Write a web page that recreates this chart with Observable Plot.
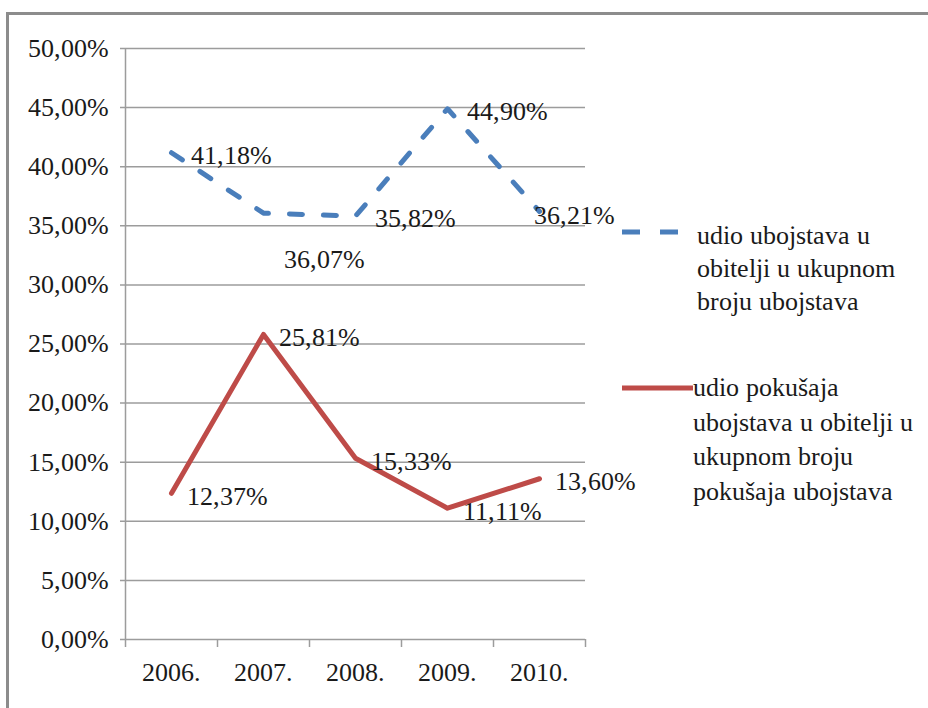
<!DOCTYPE html>
<html><head><meta charset="utf-8">
<style>
@font-face{font-family:'ChartSerif';src:local('Liberation Serif'),local('LiberationSerif'),local('LiberationSerif-Regular'),local('Times New Roman');font-display:swap;}
</style>
<script src="https://cdn.jsdelivr.net/npm/d3@7"></script>
<script src="https://cdn.jsdelivr.net/npm/@observablehq/plot@0.6"></script>
</head><body style="margin:0;background:#fff;font-family:'ChartSerif','Liberation Serif',serif;">
<div id="wrap" style="position:relative;width:928px;height:708px;overflow:hidden;font-family:'ChartSerif','Liberation Serif',serif;color:#1a1a1a;background:#fff;"></div>
<script>
// ---- data ----
const years = ["2006.", "2007.", "2008.", "2009.", "2010."];
const homicideShare = [41.18, 36.07, 35.82, 44.90, 36.21];
const attemptShare = [12.37, 25.81, 15.33, 11.11, 13.60];
const yTicks = [0, 5, 10, 15, 20, 25, 30, 35, 40, 45, 50];
const legendHomicide = ["udio ubojstava u", "obitelji u ukupnom", "broju ubojstava"];
const legendAttempt = ["udio pokušaja", "ubojstava u obitelji u", "ukupnom broju", "pokušaja ubojstava"];

const blue = "#4a7ebb", red = "#be4b48", grid = "#9c9c9c", ink = "#1a1a1a";
const FONT = "'ChartSerif','Liberation Serif',serif";
const fmt = v => v.toFixed(2).replace(".", ",") + "%";

const rowsH = years.map((year, i) => ({year, value: homicideShare[i], i}));
const rowsA = years.map((year, i) => ({year, value: attemptShare[i], i}));

function render() {
  const wrap = document.getElementById("wrap");
  wrap.innerHTML = "";
  const frame = document.createElement("div");
  frame.setAttribute("style", "position:absolute;left:6px;top:12px;width:960px;height:760px;border-top:3px solid #8c8c8c;border-left:3px solid #8c8c8c;");
  wrap.appendChild(frame);

  const txt = {fontFamily: FONT, fontSize: 26, fill: ink};
  const chart = Plot.plot({
    width: 928, height: 708,
    marginLeft: 125, marginRight: 343, marginTop: 48, marginBottom: 69,
    style: {fontFamily: FONT, fontSize: "26px", color: ink, background: "transparent"},
    x: {type: "point", domain: years, padding: 0.5, label: null},
    y: {domain: [0, 50], label: null},
    marks: [
      Plot.gridY(yTicks, {stroke: grid, strokeOpacity: 1, strokeWidth: 1.5, insetLeft: -5}),
      Plot.ruleX([years[0]], {dx: -46, y1: 50, y2: 0, insetBottom: -8, stroke: grid, strokeWidth: 1.5}),
      Plot.ruleX(years, {dx: 46, y1: 0, y2: 0, insetBottom: -8, stroke: grid, strokeWidth: 1.5}),
      Plot.axisY({ticks: yTicks, tickSize: 0, tickPadding: 17, tickFormat: fmt, ...txt, label: null}),
      Plot.axisX({tickSize: 0, tickPadding: 23, ...txt, label: null}),
      Plot.line(rowsH, {x: "year", y: "value", stroke: blue, strokeWidth: 5, strokeDasharray: "13,21", strokeLinecap: "round"}),
      Plot.line(rowsA, {x: "year", y: "value", stroke: red, strokeWidth: 5}),
      Plot.text(rowsH.filter(d => d.i !== 1 && d.i !== 4), {x: "year", y: "value", text: d => fmt(d.value), textAnchor: "start", dx: 19, dy: 3, ...txt}),
      Plot.text(rowsH.filter(d => d.i === 1), {x: "year", y: "value", text: d => fmt(d.value), textAnchor: "start", dx: 20, dy: 47, ...txt}),
      Plot.text(rowsH.filter(d => d.i === 4), {x: "year", y: "value", text: d => fmt(d.value), textAnchor: "start", dx: -6, dy: 4, ...txt}),
      Plot.text(rowsA, {x: "year", y: "value", text: d => fmt(d.value), textAnchor: "start", dx: 15, dy: 3, ...txt})
    ]
  });
  chart.setAttribute("style", chart.getAttribute("style") + ";position:absolute;left:0;top:0;");
  wrap.appendChild(chart);

  // ---- legend ----
  const ns = "http://www.w3.org/2000/svg";
  const sym = document.createElementNS(ns, "svg");
  sym.setAttribute("style", "position:absolute;left:0;top:0;");
  sym.setAttribute("width", 928); sym.setAttribute("height", 708);
  function symLine(x1, x2, y, color, dash) {
    const l = document.createElementNS(ns, "line");
    l.setAttribute("x1", x1); l.setAttribute("x2", x2);
    l.setAttribute("y1", y); l.setAttribute("y2", y);
    l.setAttribute("stroke", color); l.setAttribute("stroke-width", 5);
    if (dash) l.setAttribute("stroke-dasharray", dash);
    sym.appendChild(l);
  }
  symLine(622, 678, 232, blue, "18,20");
  symLine(622, 693, 388, red, null);
  wrap.appendChild(sym);
  function legText(lines, left, top, lh) {
    const d = document.createElement("div");
    d.setAttribute("style", `position:absolute;left:${left}px;top:${top}px;line-height:${lh}px;font-size:25.5px;white-space:nowrap;font-family:${FONT};color:${ink};`);
    d.innerHTML = lines.map(s => `<div>${s}</div>`).join("");
    wrap.appendChild(d);
  }
  legText(legendHomicide, 697, 219, 33);
  legText(legendAttempt, 693, 371, 34.7);
}

render();
if (document.fonts && document.fonts.load) {
  document.fonts.load("26px 'ChartSerif'").then(() => render()).catch(() => {});
}
setTimeout(render, 200);
</script>
</body></html>
